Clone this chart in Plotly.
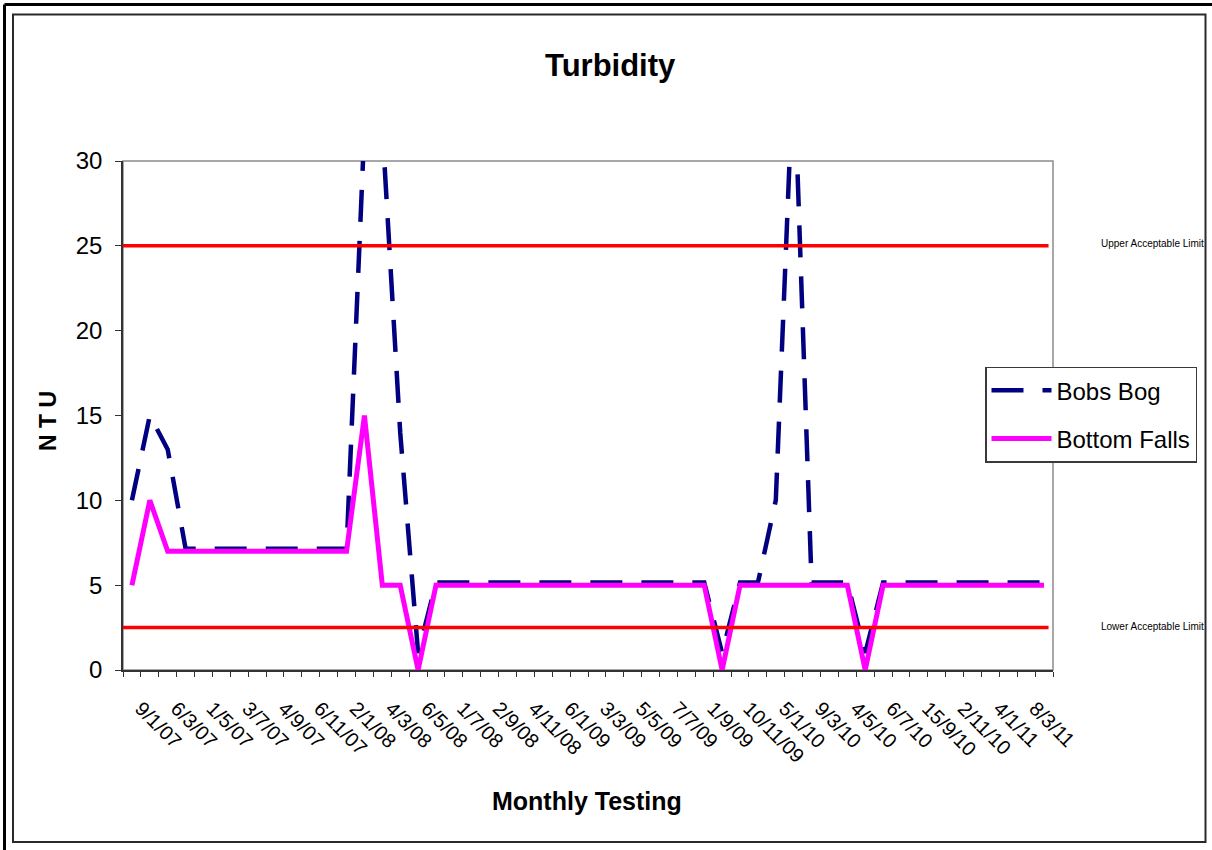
import plotly.graph_objects as go

# ---------------- data ----------------
tick_labels = ["9/1/07", "6/3/07", "1/5/07", "3/7/07", "4/9/07", "6/11/07",
               "2/1/08", "4/3/08", "6/5/08", "1/7/08", "2/9/08", "4/11/08",
               "6/1/09", "3/3/09", "5/5/09", "7/7/09", "1/9/09", "10/11/09",
               "5/1/10", "9/3/10", "4/5/10", "6/7/10", "15/9/10", "2/11/10",
               "4/1/11", "8/3/11"]

bobs_bog = [10, 15, 13, 7.15, 7.15, 7.15, 7.15, 7.15, 7.15, 7.15, 7.15, 7.15, 7.15,
            32, 32, 14, 1,
            5.15, 5.15, 5.15, 5.15, 5.15, 5.15, 5.15, 5.15, 5.15, 5.15, 5.15, 5.15,
            5.15, 5.15, 5.15, 5.15,
            1, 5.15, 5.15, 10, 36, 5.15, 5.15, 5.15, 1,
            5.15, 5.15, 5.15, 5.15, 5.15, 5.15, 5.15, 5.15, 5.15, 5.15]

bottom_falls = [5, 10, 7, 7, 7, 7, 7, 7, 7, 7, 7, 7, 7,
                15, 5, 5, 0,
                5, 5, 5, 5, 5, 5, 5, 5, 5, 5, 5, 5, 5, 5, 5, 5,
                0, 5, 5, 5, 5, 5, 5, 5, 0,
                5, 5, 5, 5, 5, 5, 5, 5, 5, 5]

upper_limit = 25
lower_limit = 2.5
limit_labels = ["Upper Acceptable Limit", "Lower Acceptable Limit"]

months = list(range(len(bobs_bog)))          # monthly test index
label_months = months[::2]                   # every second month is labelled

# ---------------- layout geometry (pixels) ----------------
W, H = 1212, 850
L, R, T, B = 123, 159, 161, 180
PW, PH = W - L - R, H - T - B


def px(x):
    return (x - L) / PW


def py(y):
    return (H - B - y) / PH


FONT = "Liberation Sans, Arial, sans-serif"

fig = go.Figure()

fig.add_trace(go.Scatter(
    x=months, y=bobs_bog, mode="lines", name="Bobs Bog",
    line=dict(color="#000080", width=4.5, dash="32px,19px"),
    legendgroup="a", cliponaxis=True))

fig.add_trace(go.Scatter(
    x=months, y=bottom_falls, mode="lines", name="Bottom Falls",
    line=dict(color="#FF00FF", width=5),
    legendgroup="b", cliponaxis=True))

shapes = []
for lim in (upper_limit, lower_limit):
    shapes.append(dict(type="line", xref="x", yref="y", x0=-0.5, x1=51.25,
                       y0=lim, y1=lim, line=dict(color="#FF0000", width=3.5),
                       layer="above"))
# plot-area border
shapes.append(dict(type="rect", xref="paper", yref="paper", x0=0, x1=1, y0=0, y1=1,
                   line=dict(color="#8c8c8c", width=1.5), layer="below"))
# chart frame
shapes.append(dict(type="rect", xref="paper", yref="paper",
                   x0=px(13), x1=px(1205.5), y0=py(14.5), y1=py(842),
                   line=dict(color="#2a2a2a", width=2), layer="below"))
# outer black frame (left & top)
shapes.append(dict(type="line", xref="paper", yref="paper",
                   x0=px(4.5), x1=px(4.5), y0=py(4.5), y1=py(850),
                   line=dict(color="#000000", width=3)))
shapes.append(dict(type="line", xref="paper", yref="paper",
                   x0=px(4.5), x1=px(1212), y0=py(4.5), y1=py(4.5),
                   line=dict(color="#000000", width=3)))

annotations = [
    dict(text="<b>Turbidity</b>", x=px(610), y=py(65), xref="paper", yref="paper",
         showarrow=False, font=dict(family=FONT, size=31, color="black"),
         xanchor="center", yanchor="middle"),
    dict(text="<b>Monthly Testing</b>", x=px(587), y=py(801), xref="paper", yref="paper",
         showarrow=False, font=dict(family=FONT, size=25, color="black"),
         xanchor="center", yanchor="middle"),
    dict(text="<b>N T U</b>", x=px(48), y=py(421), xref="paper", yref="paper",
         showarrow=False, font=dict(family=FONT, size=23, color="black"),
         textangle=-90, xanchor="center", yanchor="middle"),
    dict(text=limit_labels[0], x=px(1099), y=upper_limit, xref="paper", yref="y",
         showarrow=False, font=dict(family=FONT, size=10, color="black"),
         xanchor="left", yanchor="middle", yshift=2),
    dict(text=limit_labels[1], x=px(1099), y=lower_limit, xref="paper", yref="y",
         showarrow=False, font=dict(family=FONT, size=10, color="black"),
         xanchor="left", yanchor="middle", yshift=1),
]

fig.update_layout(
    width=W, height=H,
    margin=dict(l=L, r=R, t=T, b=B, pad=0),
    paper_bgcolor="white", plot_bgcolor="white",
    font=dict(family=FONT, color="black"),
    showlegend=True,
    legend=dict(x=px(985), y=py(366.7), xanchor="left", yanchor="top",
                bgcolor="white", bordercolor="#3a3a3a", borderwidth=1.5,
                font=dict(family=FONT, size=24, color="black"),
                tracegroupgap=14, itemwidth=60, traceorder="grouped"),
    xaxis=dict(range=[-0.5, len(months) - 0.5],
               tickmode="array",
               tickvals=[m - 0.5 for m in months] + [len(months) - 0.5],
               showticklabels=False, ticks="outside", ticklen=5, tickwidth=1.2,
               tickcolor="#333", showline=True, linecolor="#333", linewidth=1.5,
               showgrid=False, zeroline=False, fixedrange=True),
    xaxis2=dict(overlaying="x", anchor="y", side="bottom",
                range=[-0.5, len(months) - 0.5],
                tickmode="array", tickvals=[m + 0.5 for m in label_months],
                ticktext=tick_labels,
                tickangle=45, ticks="", showline=False, showgrid=False,
                zeroline=False, ticklabelstandoff=22,
                tickfont=dict(family=FONT, size=20, color="black")),
    yaxis=dict(range=[0, 30], tickmode="array", tickvals=[0, 5, 10, 15, 20, 25, 30],
               ticks="outside", ticklen=6, tickwidth=1.2, tickcolor="#333",
               showline=True, linecolor="#333", linewidth=1.5,
               showgrid=False, zeroline=False, ticklabelstandoff=8,
               tickfont=dict(family=FONT, size=24, color="black")),
    shapes=shapes,
    annotations=annotations,
)

# invisible trace so the overlaid label axis is rendered
fig.add_trace(go.Scatter(x=[months[0]], y=[None], xaxis="x2", yaxis="y",
                         showlegend=False, hoverinfo="skip"))

fig.write_html("out.html", config={"displayModeBar": False},
               post_script="document.body.style.margin='0px';")
